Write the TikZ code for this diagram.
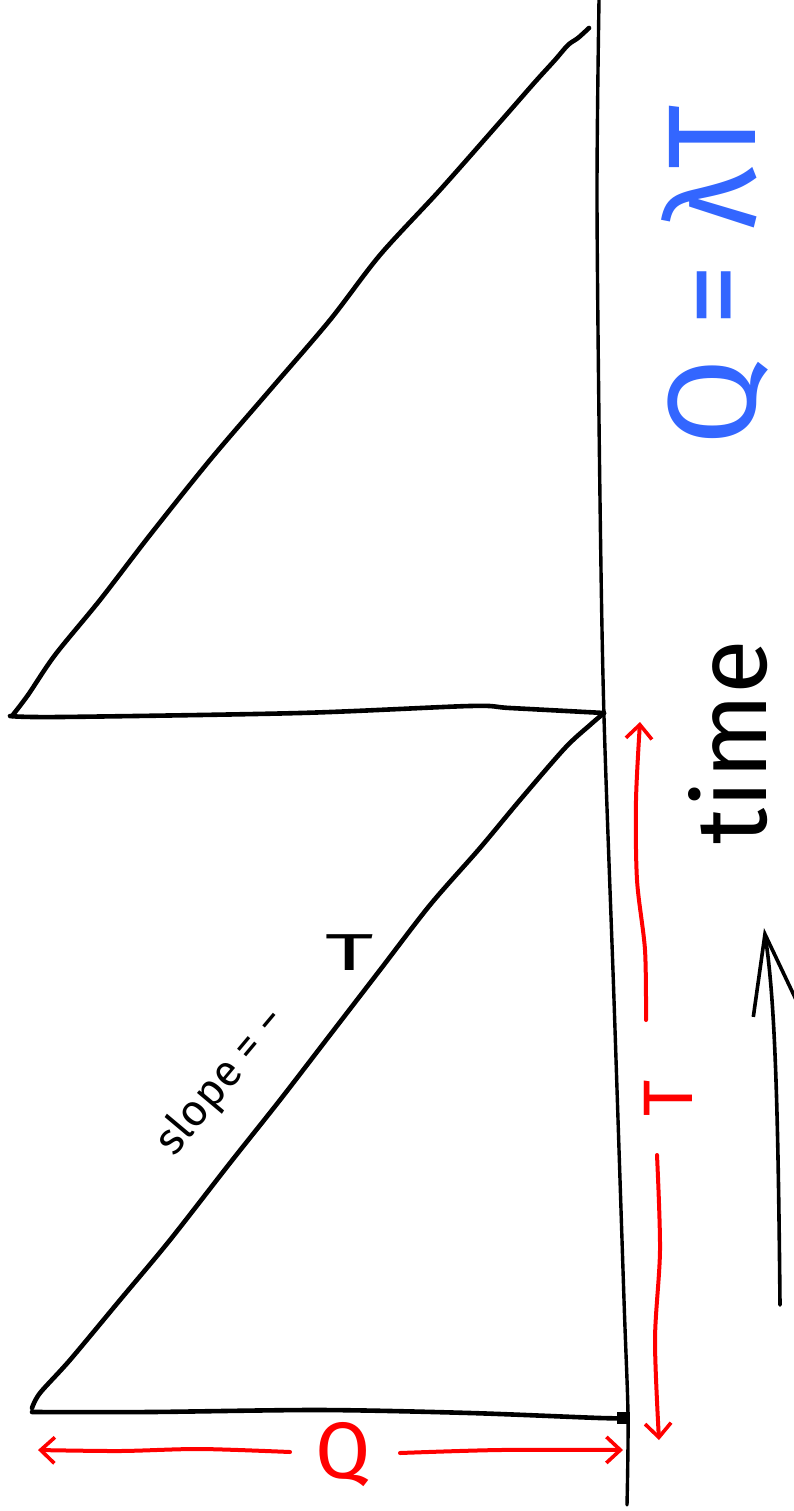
\documentclass[tikz,border=0pt]{standalone}
\usepackage{fontspec}
\setmainfont{Fira Sans}
\usetikzlibrary{arrows.meta}
\definecolor{penred}{RGB}{255,0,0}
\definecolor{penblue}{RGB}{51,102,255}
\begin{document}
\begin{tikzpicture}[x=1pt,y=-1pt,line cap=round,line join=round,
  ink/.style={line width=4.6pt,black},
  axisline/.style={line width=3.4pt,black},
  redink/.style={line width=4pt,penred},
  redhead/.style={-{Straight Barb[length=14pt,width=26pt,line width=3.6pt]}},
  lbl/.style={inner sep=0pt,anchor=center}]
\useasboundingbox (0,0) rectangle (794,1511);
% time axis
\draw[axisline] plot[smooth] coordinates {(599,0) (597,200) (600,500) (604,717) (614,1000) (624,1300) (628,1415) (627,1505)};
% first cycle (top)
\draw[ink] plot[smooth] coordinates {(589,28) (578,38) (568,45) (555,60) (535,82) (500,122) (440,190) (380,255) (330,320) (270,390) (210,460) (150,535) (100,600) (55,655) (28,695) (12,716)};
\draw[ink] plot[smooth] coordinates {(10,716) (60,717) (300,713) (470,706) (510,708) (604,713)};
% second cycle (bottom)
\draw[ink] plot[smooth] coordinates {(604,713) (590,725) (565,748) (520,800) (480,848) (430,905) (380,970) (330,1035) (280,1100) (230,1163) (170,1240) (120,1300) (70,1360) (40,1393) (32,1408)};
\draw[ink] plot[smooth] coordinates {(32,1412) (150,1412) (320,1410) (470,1413) (600,1418) (626,1418)};
\fill (617,1412) rectangle (630,1424);
% slope label
\node[lbl,rotate=50,font=\fontsize{44}{44}\selectfont] (slope) at (222,1082) {slope = −};
\node[lbl,xscale=1.8,font=\fontsize{52}{52}\selectfont] (slopeT) at (350,953) {T};
% red T dimension
\draw[redink,redhead] plot[smooth] coordinates {(646,1020) (645,950) (637,880) (636,800) (640,722)};
\node[lbl,rotate=90,text=penred,font=\fontsize{70}{70}\selectfont] (redT) at (668,1098) {T};
\draw[redink,redhead] plot[smooth] coordinates {(657,1155) (660,1250) (655,1340) (659,1440)};
% red Q dimension
\node[lbl,text=penred,font=\fontsize{80}{80}\selectfont] (redQ) at (343,1455) {Q};
\draw[redink,redhead] plot[smooth] coordinates {(290,1452) (200,1449) (120,1451) (38,1450)};
\draw[redink,redhead] plot[smooth] coordinates {(400,1453) (500,1450) (623,1450)};
% blue formula
\node[lbl,rotate=90,text=penblue,font=\fontsize{125}{125}\selectfont] (formula) at (715,275) {Q = λT};
% time arrow
\node[lbl,rotate=90,font=\fontsize{100}{100}\selectfont] (timelbl) at (728,742) {time};
\coordinate (tstart) at (780,1305);
\coordinate (tend) at (764,928);
\draw[ink,line width=3.6pt,-{Straight Barb[length=80pt,width=48pt,line width=3.6pt]}] (tstart) .. controls (778,1100) and (775,1000) .. (tend);
\end{tikzpicture}
\end{document}
